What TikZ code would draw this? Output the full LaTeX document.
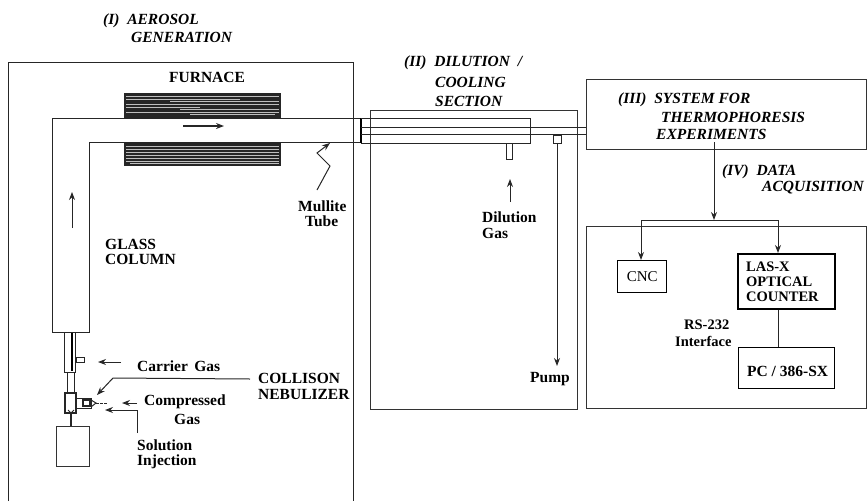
\documentclass[tikz,border=0pt]{standalone}
\usepackage{fontspec}
\setmainfont{Liberation Serif}
\usetikzlibrary{arrows.meta}
\tikzset{
  x=1pt,y=-1pt,
  ln/.style={draw=black!85,line width=1pt},
  thick ln/.style={draw=black,line width=1.6pt},
  arr/.style={draw=black!85,line width=1pt,-{Stealth[length=8pt,width=6pt]}},
  ttl/.style={anchor=west,inner sep=0pt,font=\fontsize{15.5}{16}\selectfont\bfseries\itshape},
  lbl/.style={anchor=west,inner sep=0pt,font=\fontsize{15.5}{16}\selectfont\bfseries},
  tight/.style={anchor=west,inner sep=0pt,font=\fontsize{14.5}{15}\selectfont\bfseries},
  furn/.style={fill=black!85},
  frame/.style={draw=black!80,line width=1pt,inner sep=0pt,outer sep=0pt,anchor=north west},
}
\begin{document}
\begin{tikzpicture}
\useasboundingbox (0,0) rectangle (868,501);
% section frames
\draw[ln] (8,501) -- (8,62) -- (353,62) -- (353,501);
\node[frame,minimum width=207pt,minimum height=299pt] (secII) at (370,110) {};
\node[frame,minimum width=280pt,minimum height=70pt] (secIII) at (586,79) {};
\node[frame,minimum width=280pt,minimum height=182pt] (secIV) at (586,226) {};
% furnace
\fill[furn] (124,93) rectangle (281,118);
\fill[furn] (124,142) rectangle (281,166);
\foreach \y/\a/\b in {96/126/279,99/126/240,101/170/279,104/126/279,107/126/200,109/180/279,112/126/279,114/190/275}
  \draw[black!25,line width=0.4pt] (\a,\y) -- (\b,\y);
\foreach \y/\a/\b in {146/126/279,149/126/279,152/126/279,155/126/279,158/126/279,161/126/279,163/130/279}
  \draw[black!25,line width=0.4pt] (\a,\y) -- (\b,\y);
% glass column + mullite tube
\draw[ln] (361,118) -- (52,118) -- (52,332) -- (89,332) -- (89,142) -- (361,142);
\coordinate (flangeT) at (361,118);
\coordinate (flangeB) at (361,143);
\draw[thick ln] (flangeT) -- (flangeB);
% dilution section jacket
\draw[ln] (flangeT) -- (530,118) -- (530,143) -- (flangeB);
\draw[ln] (361,127) -- (secIII.west |- 0,127);
\draw[ln] (361,134.5) -- (secIII.west |- 0,134.5);
% stubs
\draw[ln] (506,143) rectangle (512,159);
\draw[ln] (553,135) rectangle (561,143);
% flow arrows
\coordinate (hA) at (183,126); \coordinate (hB) at (224,126);
\draw[arr,line width=1.4pt] (hA) -- (hB);
\coordinate (cA) at (72,228); \coordinate (cB) at (72,192);
\draw[arr] (cA) -- (cB);
% dilution
\node[lbl] (dil) at (482,217) {Dilution};
\node[lbl] (dilg) at (482,233) {Gas};
\coordinate (dA) at (510,202); \coordinate (dB) at (510,179);
\draw[arr] (dA) -- (dB);
% pump
\node[lbl] (pump) at (530,379) {Pump};
\coordinate (pA) at (557,143); \coordinate (pB) at (557,366);
\draw[arr] (pA) -- (pB);
% mullite pointer
\node[lbl] (mul) at (298,206) {Mullite};
\node[lbl] (tub) at (305,221) {Tube};
\coordinate (m1) at (317,190); \coordinate (m2) at (330,166); \coordinate (m3) at (317,153); \coordinate (m4) at (330,143);
\draw[arr] (m1) -- (m2) -- (m3) -- (m4);
% small tube under column
\draw[ln] (64,332) rectangle (75,372);
\draw[draw=black,line width=1.8pt] (72,333) -- (72,371);
\draw[ln] (76,357) rectangle (84,362);
\draw[ln] (67,372) -- (67,393);
\draw[ln] (74,372) -- (74,393);
% nebulizer
\draw[ln,line width=1.2pt] (65,393) rectangle (76,413);
\draw[ln] (76,398) rectangle (91,408);
\draw[ln,line width=1.3pt] (83,400) rectangle (90,406);
\draw[ln] (91,400) -- (96,403) -- (91,407);
\draw[ln,dash pattern=on 3pt off 1pt] (96,403) -- (108,403);
\draw[ln] (68,410) -- (71,413) -- (74,410);
% jar
\node[frame,minimum width=33pt,minimum height=40pt] (jar) at (56,426) {};
\draw[ln,line width=1.4pt] (71,413) -- (jar.north -| 71,0);
% labels at left
\node[lbl] (fur) at (169,77) {FURNACE};
\node[lbl] (gl1) at (105,244) {GLASS};
\node[lbl] (gl2) at (105,259) {COLUMN};
\node[lbl] (car) at (137,366) {Carrier\ \,Gas};
\coordinate (carA) at (121,362); \coordinate (carB) at (98,362);
\draw[arr] (carA) -- (carB);
\node[lbl] (co1) at (258,378) {COLLISON};
\node[lbl] (co2) at (258,394) {NEBULIZER};
\coordinate (cs) at (250,379); \coordinate (cc) at (113,378); \coordinate (ce) at (97,395);
\draw[arr] (cs) -- (cc) -- (ce);
\node[lbl] (cp1) at (144,402) {Compressed};
\node[lbl] (cp2) at (174,419) {Gas};
\coordinate (cpA) at (137,403); \coordinate (cpB) at (122,403);
\draw[arr] (cpA) -- (cpB);
\node[lbl] (so1) at (137,445) {Solution};
\node[lbl] (so2) at (137,462) {Injection};
\coordinate (sA) at (137,433); \coordinate (sB) at (137,410); \coordinate (sC) at (105,410);
\draw[arr] (sA) -- (sB) -- (sC);
% titles
\node[ttl] (t1a) at (103,21) {(I)\ \ AEROSOL};
\node[ttl] (t1b) at (131,37) {GENERATION};
\node[ttl] (t2a) at (404,63) {(II)\ \ DILUTION\ \ /};
\node[ttl] (t2b) at (435,82) {COOLING};
\node[ttl] (t2c) at (435,101) {SECTION};
\node[ttl] (t3a) at (618,100) {(III)\ \ SYSTEM FOR};
\node[ttl] (t3b) at (661,117) {THERMOPHORESIS};
\node[ttl] (t3c) at (656,134) {EXPERIMENTS};
\node[ttl] (t4a) at (722,172) {(IV)\ \ DATA};
\node[ttl] (t4b) at (762,188) {ACQUISITION};
% data acquisition
\node[draw=black,line width=1.4pt,inner sep=0pt,minimum width=49pt,minimum height=32pt,anchor=north west,font=\fontsize{15}{16}\selectfont] (cnc) at (617,260) {CNC};
\node[draw=black,line width=1.6pt,inner sep=0pt,minimum width=97pt,minimum height=55pt,anchor=north west] (las) at (737,253) {};
\node[tight] (las1) at (746,267) {LAS-X};
\node[tight] (las2) at (746,282) {OPTICAL};
\node[tight] (las3) at (746,297) {COUNTER};
\node[draw=black,line width=1.4pt,inner sep=0pt,minimum width=96pt,minimum height=41pt,anchor=north west] (pc) at (738,347) {};
\node[lbl] (pct) at (747,371) {PC / 386-SX};
\draw[ln] (las.south -| 778,0) -- (pc.north -| 778,0);
\node[tight] (rs) at (684,325) {RS-232};
\node[tight] (ifc) at (675,341) {Interface};
\coordinate (j) at (714,220);
\coordinate (st) at (714,142);
\coordinate (jl) at (641,220);
\coordinate (jr) at (778,220);
\draw[arr] (st) -- (j);
\draw[arr] (j) -- (jl) -- (cnc.north -| jl);
\draw[arr] (j) -- (jr) -- (las.north -| jr);
\end{tikzpicture}
\end{document}
